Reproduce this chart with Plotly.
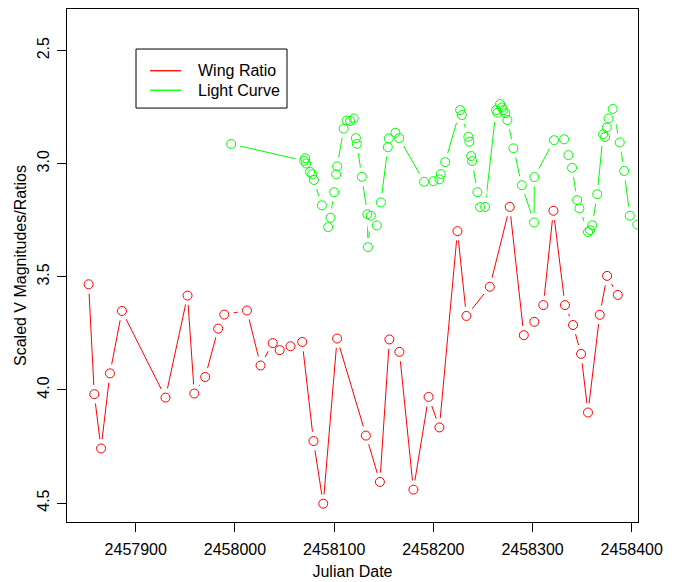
import plotly.graph_objects as go

# Wing Ratio series (red)
wing_jd = [2457852.5, 2457858.2, 2457865.0, 2457874.0, 2457886.1, 2457930.0, 2457952.2,
           2457959.0, 2457970.0, 2457983.1, 2457989.2, 2458012.1, 2458025.8, 2458038.1,
           2458045.1, 2458056.0, 2458067.8, 2458079.2, 2458089.0, 2458103.0, 2458132.0,
           2458146.1, 2458155.7, 2458165.8, 2458179.9, 2458195.2, 2458206.1, 2458224.3,
           2458233.3, 2458256.9, 2458277.0, 2458291.2, 2458301.8, 2458310.9, 2458321.0,
           2458332.7, 2458340.8, 2458348.9, 2458355.9, 2458367.7, 2458375.1, 2458385.9]
wing_ratio = [3.533, 4.019, 4.259, 3.927, 3.651, 4.034, 3.583,
              4.016, 3.943, 3.729, 3.667, 3.649, 3.892, 3.793,
              3.824, 3.807, 3.788, 4.226, 4.503, 3.773, 4.202,
              4.407, 3.777, 3.832, 4.441, 4.031, 4.166, 3.298,
              3.673, 3.544, 3.191, 3.758, 3.699, 3.625, 3.208,
              3.625, 3.713, 3.841, 4.100, 3.668, 3.496, 3.580]

# Light Curve series (green)
lc_jd = [2457996.2, 2458069.8, 2458070.8, 2458071.8, 2458075.8, 2458077.9, 2458079.6,
         2458087.6, 2458094.0, 2458096.3, 2458100.0, 2458102.0, 2458103.0, 2458109.6,
         2458112.6, 2458116.1, 2458119.7, 2458121.9, 2458122.9, 2458127.9, 2458133.5,
         2458134.0, 2458137.0, 2458143.0, 2458147.1, 2458154.1, 2458155.1, 2458161.8,
         2458165.5, 2458190.7, 2458200.1, 2458206.1, 2458207.5, 2458211.9, 2458227.0,
         2458228.7, 2458235.3, 2458236.3, 2458238.1, 2458239.1, 2458244.4, 2458247.1,
         2458252.2, 2458263.2, 2458264.6, 2458267.3, 2458269.0, 2458270.6, 2458272.6,
         2458274.6, 2458280.7, 2458289.1, 2458301.5, 2458301.8, 2458321.7, 2458331.8,
         2458336.1, 2458339.8, 2458344.9, 2458347.2, 2458355.9, 2458358.0, 2458360.2,
         2458365.2, 2458371.1, 2458373.1, 2458374.8, 2458376.6, 2458380.8, 2458387.9,
         2458392.4, 2458398.0, 2458405.6]
lc_mag = [2.913, 2.987, 2.976, 2.999, 3.036, 3.047, 3.072,
          3.184, 3.280, 3.239, 3.126, 3.047, 3.012, 2.845,
          2.809, 2.811, 2.800, 2.887, 2.912, 3.058, 3.223,
          3.369, 3.230, 3.273, 3.171, 2.927, 2.888, 2.863,
          2.887, 3.080, 3.077, 3.069, 3.046, 2.993, 2.763,
          2.785, 2.881, 2.903, 2.966, 2.988, 3.126, 3.192,
          3.191, 2.763, 2.775, 2.736, 2.751, 2.763, 2.777,
          2.807, 2.932, 3.095, 3.260, 3.059, 2.896, 2.892,
          2.962, 3.018, 3.161, 3.198, 3.302, 3.294, 3.272,
          3.135, 2.870, 2.882, 2.840, 2.800, 2.758, 2.906,
          3.032, 3.230, 3.269]

x_ticks = [2457900, 2458000, 2458100, 2458200, 2458300, 2458400]
y_ticks = [2.5, 3.0, 3.5, 4.0, 4.5]
legend_labels = ["Wing Ratio", "Light Curve"]

RED = "#FF0000"
GREEN = "#00FF00"
FONT = "Liberation Sans, Arial, Helvetica, sans-serif"

fig = go.Figure()

# connecting lines
fig.add_trace(go.Scatter(x=wing_jd, y=wing_ratio, mode="lines", name=legend_labels[0],
                         showlegend=False, line=dict(color=RED, width=1)))
fig.add_trace(go.Scatter(x=lc_jd, y=lc_mag, mode="lines", name=legend_labels[1],
                         showlegend=False, line=dict(color=GREEN, width=1)))
# white discs to create the gaps around points (R type="b")
for xs, ys in ((wing_jd, wing_ratio), (lc_jd, lc_mag)):
    fig.add_trace(go.Scatter(x=xs, y=ys, mode="markers", showlegend=False, hoverinfo="skip",
                             marker=dict(symbol="circle", size=19, color="white",
                                         line=dict(width=0))))
# open circles
fig.add_trace(go.Scatter(x=wing_jd, y=wing_ratio, mode="markers", showlegend=False,
                         name=legend_labels[0],
                         marker=dict(symbol="circle-open", size=9, color=RED,
                                     line=dict(width=1, color=RED))))
fig.add_trace(go.Scatter(x=lc_jd, y=lc_mag, mode="markers", showlegend=False,
                         name=legend_labels[1],
                         marker=dict(symbol="circle-open", size=9, color=GREEN,
                                     line=dict(width=1, color=GREEN))))

# legend box drawn like R's legend()
L, R_, T, B = 67.0, 638.0, 9.0, 521.7
def px(xp):
    return (xp - L) / (R_ - L)
def py(yp):
    return 1 - (yp - T) / (B - T)

shapes = [dict(type="rect", xref="paper", yref="paper",
               x0=px(136), x1=px(287), y0=py(108), y1=py(49),
               line=dict(color="black", width=1), fillcolor="white", layer="above")]
annotations = []
for i, (lab, col) in enumerate(zip(legend_labels, [RED, GREEN])):
    yy = py(70.7 + 19.5 * i)
    shapes.append(dict(type="line", xref="paper", yref="paper",
                       x0=px(150), x1=px(181), y0=yy, y1=yy,
                       line=dict(color=col, width=1.3), layer="above"))
    annotations.append(dict(xref="paper", yref="paper", x=px(196), y=yy,
                            xanchor="left", yanchor="middle", showarrow=False,
                            text=lab, font=dict(family=FONT, size=16, color="black")))

fig.update_layout(
    width=678, height=582,
    margin=dict(l=67, r=40, t=9, b=60, autoexpand=False),
    paper_bgcolor="white", plot_bgcolor="white",
    font=dict(family=FONT, size=16, color="black"),
    showlegend=False,
    shapes=shapes, annotations=annotations,
    xaxis=dict(range=[2457830.7, 2458406.3], tickvals=x_ticks,
               ticktext=[str(v) for v in x_ticks], automargin=False,
               showgrid=False, zeroline=False, showline=True, mirror=True,
               linecolor="black", linewidth=1, ticks="outside", ticklen=9,
               tickcolor="black", tickfont=dict(size=16), ticklabelstandoff=4,
               title=dict(text="Julian Date", font=dict(size=16), standoff=8)),
    yaxis=dict(range=[4.584, 2.316], tickvals=y_ticks,
               ticktext=["2.5", "3.0", "3.5", "4.0", "4.5"], automargin=False,
               showgrid=False, zeroline=False, showline=True, mirror=True,
               linecolor="black", linewidth=1, ticks="outside", ticklen=9,
               tickcolor="black", tickangle=-90, tickfont=dict(size=16),
               ticklabelstandoff=2,
               title=dict(text="Scaled V Magnitudes/Ratios", font=dict(size=16), standoff=3)),
)

fig.write_html("out.html", config={"displayModeBar": False},
               post_script="document.body.style.margin='0';document.body.style.padding='0';")
